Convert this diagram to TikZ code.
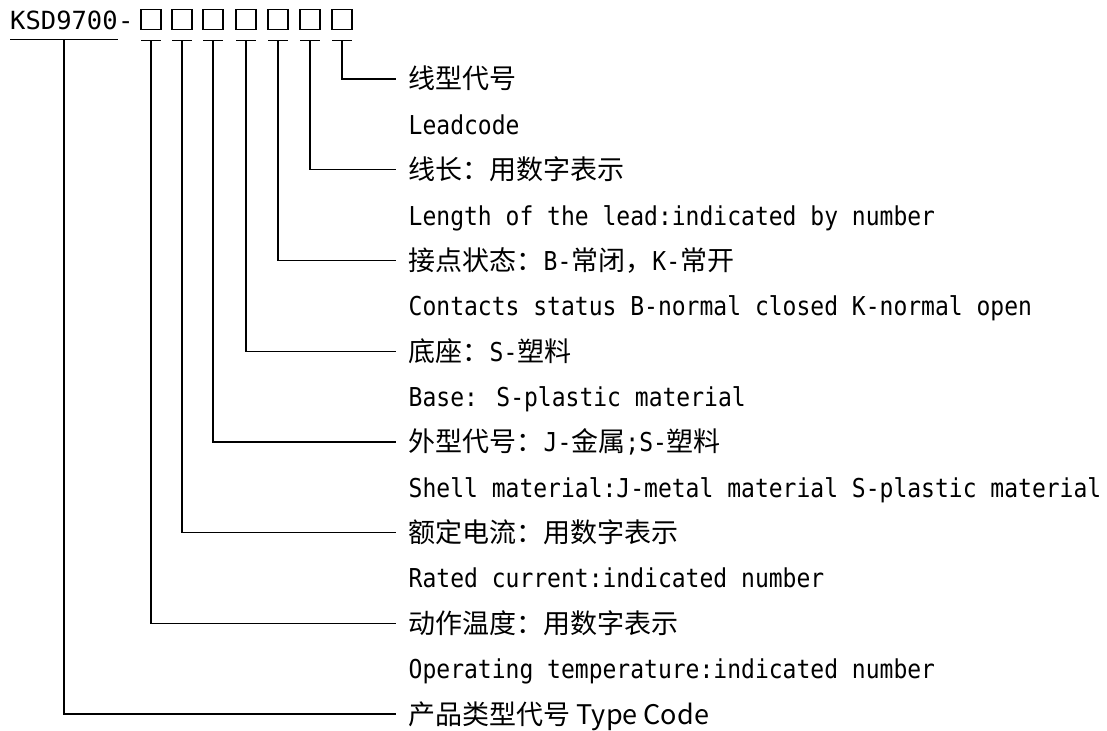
\documentclass[tikz,border=0pt]{standalone}
\usepackage{fontspec}
\setmainfont[FakeStretch=0.885]{DejaVu Sans Mono}
\newfontfamily\codefont[FakeStretch=1.02]{DejaVu Sans Mono}
\newfontfamily\cjk{Noto Sans CJK SC}
\newcommand{\cn}[1]{{\cjk\fontsize{27}{30}\selectfont #1}}

\newdimen\rowDist
\rowDist=45.36pt

\begin{document}
\begin{tikzpicture}[
    x=1pt,
    y=-1pt,
    slot/.style={%
      draw,
      rectangle,
      line width=1.2pt,
      minimum width=20pt,
      minimum height=20pt,
      inner sep=0pt,
    },
    code/.style={%
      anchor=base west,
      inner sep=0pt,
      text depth=9pt,
      font=\codefont\fontsize{25}{30}\selectfont,
    },
    item/.style={%
      anchor=west,
      inner xsep=12.5pt,
      inner ysep=0pt,
      text height=22pt,
      text depth=2pt,
      font=\fontsize{26}{30}\selectfont,
    },
    lead/.style={line width=1.3pt},
  ]
    \useasboundingbox (0,0) rectangle (1107,730);

    \node [code] (K) at (10,30) {KSD9700};
    \node [code] (H) at (K.base east) {-};
    \node [slot] (S1) at (151,19.5) {};
    \node [slot] (S2) at (182,19.5) {};
    \node [slot] (S3) at (213,19.5) {};
    \node [slot] (S4) at (246,19.5) {};
    \node [slot] (S5) at (278,19.5) {};
    \node [slot] (S6) at (310,19.5) {};
    \node [slot] (S7) at (342,19.5) {};

    \node [item] (T1) at (396,79) {\cn{线型代号}};
    \path (T1.west) ++(0pt,-\rowDist) node [item] (E1) {Leadcode};
    \path (E1.west) ++(0pt,-\rowDist) node [item] (T2) {\cn{线长：用数字表示}};
    \path (T2.west) ++(0pt,-\rowDist) node [item] (E2) {Length of the lead:indicated by number};
    \path (E2.west) ++(0pt,-\rowDist) node [item] (T3) {\cn{接点状态：}B-\cn{常闭，}K-\cn{常开}};
    \path (T3.west) ++(0pt,-\rowDist) node [item] (E3) {Contacts status B-normal closed K-normal open};
    \path (E3.west) ++(0pt,-\rowDist) node [item] (T4) {\cn{底座：}S-\cn{塑料}};
    \path (T4.west) ++(0pt,-\rowDist) node [item] (E4) {Base: S-plastic material};
    \path (E4.west) ++(0pt,-\rowDist) node [item] (T5) {\cn{外型代号：}J-\cn{金属};S-\cn{塑料}};
    \path (T5.west) ++(0pt,-\rowDist) node [item] (E5) {Shell material:J-metal material S-plastic material};
    \path (E5.west) ++(0pt,-\rowDist) node [item] (T6) {\cn{额定电流：用数字表示}};
    \path (T6.west) ++(0pt,-\rowDist) node [item] (E6) {Rated current:indicated number};
    \path (E6.west) ++(0pt,-\rowDist) node [item] (T7) {\cn{动作温度：用数字表示}};
    \path (T7.west) ++(0pt,-\rowDist) node [item] (E7) {Operating temperature:indicated number};
    \path (E7.west) ++(0pt,-\rowDist) node [item] (T8) {\cn{产品类型代号 Type Code}};

    \draw [lead] (K.south west) -- (K.south east);
    \draw [lead] ([shift={(-10pt,-10.5pt)}]S1.south) -- ++(20pt,0pt);
    \draw [lead] ([shift={(-10pt,-10.5pt)}]S2.south) -- ++(20pt,0pt);
    \draw [lead] ([shift={(-10pt,-10.5pt)}]S3.south) -- ++(20pt,0pt);
    \draw [lead] ([shift={(-10pt,-10.5pt)}]S4.south) -- ++(20pt,0pt);
    \draw [lead] ([shift={(-10pt,-10.5pt)}]S5.south) -- ++(20pt,0pt);
    \draw [lead] ([shift={(-10pt,-10.5pt)}]S6.south) -- ++(20pt,0pt);
    \draw [lead] ([shift={(-10pt,-10.5pt)}]S7.south) -- ++(20pt,0pt);

    \draw [lead] ([yshift=-10.5pt]S7.south) |- (T1.west);
    \draw [lead] ([yshift=-10.5pt]S6.south) |- (T2.west);
    \draw [lead] ([yshift=-10.5pt]S5.south) |- (T3.west);
    \draw [lead] ([yshift=-10.5pt]S4.south) |- (T4.west);
    \draw [lead] ([yshift=-10.5pt]S3.south) |- (T5.west);
    \draw [lead] ([yshift=-10.5pt]S2.south) |- (T6.west);
    \draw [lead] ([yshift=-10.5pt]S1.south) |- (T7.west);
    \draw [lead] (K.south) |- (T8.west);
\end{tikzpicture}
\end{document}
